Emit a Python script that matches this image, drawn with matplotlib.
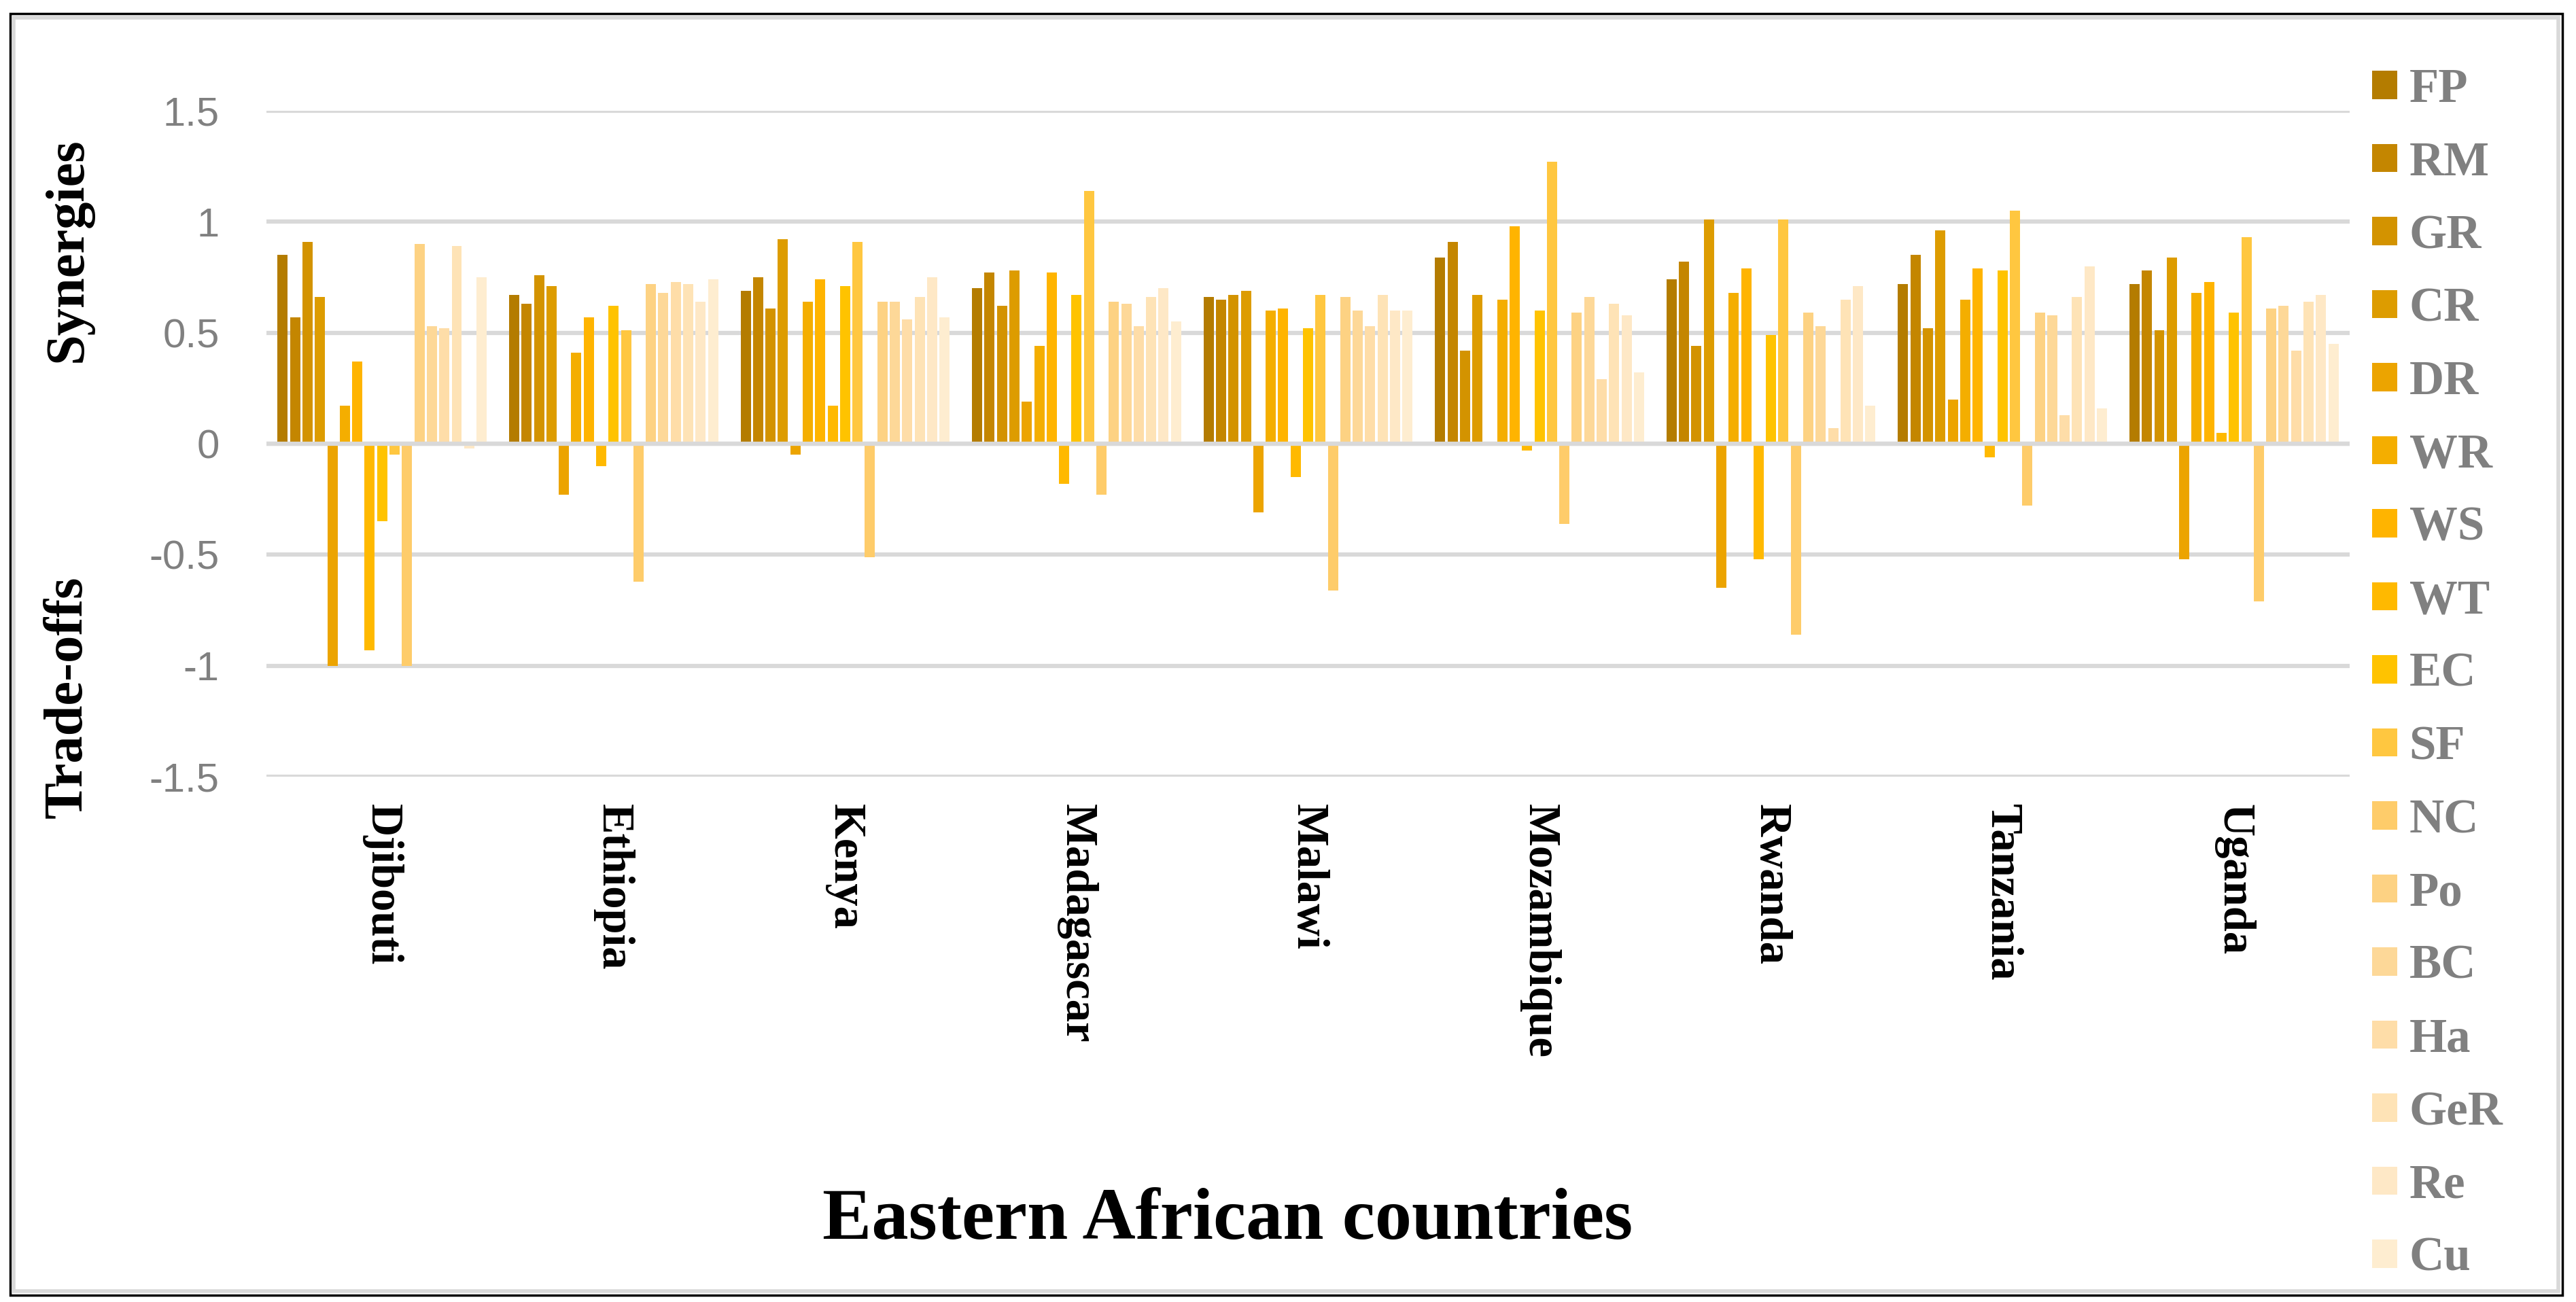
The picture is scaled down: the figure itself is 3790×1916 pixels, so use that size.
import numpy as np
import matplotlib
matplotlib.use("Agg")
import matplotlib.pyplot as plt
from matplotlib.patches import Rectangle

# ---- Data ----
countries = ["Djibouti", "Ethiopia", "Kenya", "Madagascar", "Malawi",
             "Mozambique", "Rwanda", "Tanzania", "Uganda"]

FP = [0.85, 0.67, 0.69, 0.70, 0.66, 0.84, 0.74, 0.72, 0.72]
RM = [0.57, 0.63, 0.75, 0.77, 0.65, 0.91, 0.82, 0.85, 0.78]
GR = [0.91, 0.76, 0.61, 0.62, 0.67, 0.42, 0.44, 0.52, 0.51]
CR = [0.66, 0.71, 0.92, 0.78, 0.69, 0.67, 1.01, 0.96, 0.84]
DR = [-1.00, -0.23, -0.05, 0.19, -0.31, 0.01, -0.65, 0.20, -0.52]
WR = [0.17, 0.41, 0.64, 0.44, 0.60, 0.65, 0.68, 0.65, 0.68]
WS = [0.37, 0.57, 0.74, 0.77, 0.61, 0.98, 0.79, 0.79, 0.73]
WT = [-0.93, -0.10, 0.17, -0.18, -0.15, -0.03, -0.52, -0.06, 0.05]
EC = [-0.35, 0.62, 0.71, 0.67, 0.52, 0.60, 0.49, 0.78, 0.59]
SF = [-0.05, 0.51, 0.91, 1.14, 0.67, 1.27, 1.01, 1.05, 0.93]
NC = [-1.00, -0.62, -0.51, -0.23, -0.66, -0.36, -0.86, -0.28, -0.71]
Po = [0.90, 0.72, 0.64, 0.64, 0.66, 0.59, 0.59, 0.59, 0.61]
BC = [0.53, 0.68, 0.64, 0.63, 0.60, 0.66, 0.53, 0.58, 0.62]
Ha = [0.52, 0.73, 0.56, 0.53, 0.53, 0.29, 0.07, 0.13, 0.42]
GeR = [0.89, 0.72, 0.66, 0.66, 0.67, 0.63, 0.65, 0.66, 0.64]
Re = [-0.02, 0.64, 0.75, 0.70, 0.60, 0.58, 0.71, 0.80, 0.67]
Cu = [0.75, 0.74, 0.57, 0.55, 0.60, 0.32, 0.17, 0.16, 0.45]

series_names = ["FP", "RM", "GR", "CR", "DR", "WR", "WS", "WT", "EC",
                "SF", "NC", "Po", "BC", "Ha", "GeR", "Re", "Cu"]
series_values = [FP, RM, GR, CR, DR, WR, WS, WT, EC, SF, NC, Po, BC, Ha, GeR, Re, Cu]
colors = ["#B47C00", "#C48600", "#D39300", "#DD9C00", "#ECA400", "#F4AE00",
          "#FFB400", "#FFB900", "#FFC300", "#FFC740", "#FECC6A", "#FDD283",
          "#FDD898", "#FEDDA8", "#FEE3B6", "#FEE8C6", "#FEEDD0"]

serif = "Liberation Serif"
sans = "Liberation Sans"

# ---- Figure ----
W, H = 3790, 1916
fig = plt.figure(figsize=(W / 100, H / 100), dpi=100)
ax = fig.add_axes([392 / W, 1 - 1143 / H, (3457 - 392) / W, (1143 - 163) / H])

x = np.arange(len(countries))
slot = 0.0537
width = 0.044
for i, (name, vals) in enumerate(zip(series_names, series_values)):
    ax.bar(x + (i - 8) * slot, vals, width=width, color=colors[i], label=name, zorder=2)

ax.set_xlim(-0.5, len(countries) - 0.5)
ax.set_ylim(-1.5, 1.5)
ax.set_yticks([-1.5, -1, -0.5, 0, 0.5, 1, 1.5])
ax.set_yticklabels(["-1.5", "-1", "-0.5", "0", "0.5", "1", "1.5"],
                   fontfamily=sans, fontsize=43, color="#808080")
ax.tick_params(axis="y", length=0, pad=50)
ax.yaxis.grid(True, color="#D9D9D9", linewidth=4.5, zorder=0)
ax.set_axisbelow(True)
ax.axhline(0, color="#D9D9D9", linewidth=4.5, zorder=3)

ax.set_xticks(x)
ax.set_xticklabels(countries, rotation=-90, fontfamily=serif, fontsize=48,
                   fontweight="bold", color="#000000", va="top", ha="center")
ax.tick_params(axis="x", length=0, pad=29)

for s in ax.spines.values():
    s.set_visible(False)

# ---- Axis titles ----
fig.text(100 / W, 1 - 368 / H, "Synergies", rotation=90, fontfamily=serif,
         fontsize=58, fontweight="bold", ha="center", va="center")
fig.text(100 / W, 1 - 1026 / H, "Trade-offs", rotation=90, fontfamily=serif,
         fontsize=58, fontweight="bold", ha="center", va="center")
fig.text(1806 / W, 1 - 1797 / H, "Eastern African countries", fontfamily=serif,
         fontsize=78, fontweight="bold", ha="center", va="center")

# ---- Legend ----
leg = fig.legend(loc="upper left", bbox_to_anchor=(3490 / W, 1 - 100 / H),
                 frameon=False, prop={"family": serif, "size": 51, "weight": "bold"},
                 handlelength=0.52, handleheight=0.52, handletextpad=0.25,
                 labelspacing=0.6, borderpad=0, borderaxespad=0)
for t in leg.get_texts():
    t.set_color("#808080")

# ---- Border ----
fig.patches.append(Rectangle((15 / W, 10 / H), (3770 - 15) / W, (1896 - 10) / H,
                             transform=fig.transFigure, fill=False,
                             edgecolor="#000000", linewidth=2.5))
fig.patches.append(Rectangle((20 / W, 16 / H), (3764 - 20) / W, (1890 - 16) / H,
                             transform=fig.transFigure, fill=False,
                             edgecolor="#D9D9D9", linewidth=4))

fig.savefig("out.png", dpi=100)
